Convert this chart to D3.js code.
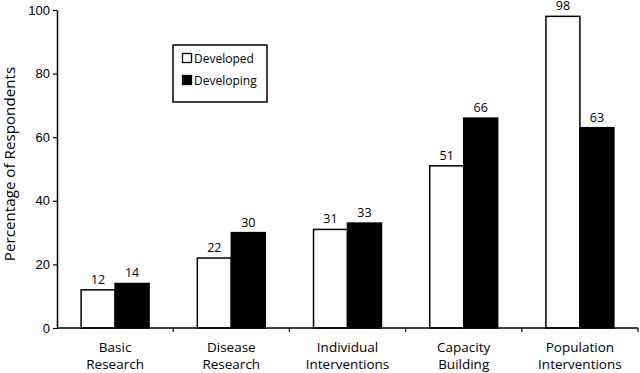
<!DOCTYPE html>
<html lang="en">
<head>
<meta charset="UTF-8">
<title>Research priorities</title>
<script src="https://d3js.org/d3.v7.min.js"></script>
<style>
  body { margin: 0; background: #fff; }
  svg { font-family: "Open Sans", "Noto Sans", Arial, sans-serif; }
</style>
</head>
<body>
<div id="chart"></div>
<script>
var categories = [["Basic", "Research"], ["Disease", "Research"], ["Individual", "Interventions"], ["Capacity", "Building"], ["Population", "Interventions"]];
var seriesNames = ["Developed", "Developing"];
var developed = [12, 22, 31, 51, 98];
var developing = [14, 30, 33, 66, 63];
var yTicks = [0, 20, 40, 60, 80, 100];

var width = 640, height = 373;
var margin = {left: 57, right: 2, top: 10, bottom: 45};

var svg = d3.select("#chart").append("svg")
    .attr("width", width)
    .attr("height", height);

var keys = categories.map(function(d) { return d.join(" "); });

var x0 = d3.scaleBand()
    .domain(keys)
    .range([margin.left, width - margin.right])
    .padding(0);

var x1 = d3.scaleBand()
    .domain(seriesNames)
    .range([0, x0.bandwidth()])
    .paddingInner(0)
    .paddingOuter(0.71);

var y = d3.scaleLinear()
    .domain([0, 100])
    .range([height - margin.bottom, margin.top]);

var fills = {Developed: "#fff", Developing: "#000"};
var values = {Developed: developed, Developing: developing};

// bars
keys.forEach(function(k, i) {
    seriesNames.forEach(function(s) {
        var v = values[s][i];
        svg.append("rect")
            .attr("x", x0(k) + x1(s))
            .attr("y", y(v))
            .attr("width", x1.bandwidth())
            .attr("height", y(0) - y(v))
            .attr("fill", fills[s])
            .attr("stroke", "#000")
            .attr("stroke-width", 1.5);
        svg.append("text")
            .attr("x", x0(k) + x1(s) + x1.bandwidth() / 2)
            .attr("y", y(v) - 6)
            .attr("text-anchor", "middle")
            .style("font-size", "12.5px")
            .text(v);
    });
});

// y axis
var yAxis = svg.append("g")
    .attr("transform", "translate(" + margin.left + ",0)")
    .call(d3.axisLeft(y).tickValues(yTicks).tickSize(4).tickPadding(3).tickSizeOuter(0));
yAxis.select(".domain").attr("stroke-width", 1.5);
yAxis.selectAll("line").attr("stroke-width", 1.2);
yAxis.selectAll("text").style("font-size", "13px").attr("fill", "#000");

// x axis with ticks at band boundaries
var xAxisG = svg.append("g")
    .attr("transform", "translate(0," + y(0) + ")");
xAxisG.append("line")
    .attr("x1", margin.left).attr("x2", width - margin.right)
    .attr("stroke", "#000").attr("stroke-width", 1.5);
keys.forEach(function(k, i) {
    xAxisG.append("line")
        .attr("x1", x0(k) + x0.bandwidth()).attr("x2", x0(k) + x0.bandwidth())
        .attr("y1", 0).attr("y2", 4)
        .attr("stroke", "#000").attr("stroke-width", 1.2);
    categories[i].forEach(function(line, j) {
        xAxisG.append("text")
            .attr("text-anchor", "middle")
            .style("font-size", "13.5px")
            .attr("x", x0(k) + x0.bandwidth() / 2)
            .attr("y", 24 + j * 16.5)
            .text(line);
    });
});

// y title
svg.append("text")
    .attr("transform", "translate(15,164) rotate(-90)")
    .attr("text-anchor", "middle")
    .style("font-size", "15.2px")
    .text("Percentage of Respondents");

// legend
var lg = svg.append("g").attr("transform", "translate(173,45)");
lg.append("rect")
    .attr("width", 94).attr("height", 57)
    .attr("fill", "#fff").attr("stroke", "#000").attr("stroke-width", 1.5);
seriesNames.forEach(function(s, i) {
    lg.append("rect")
        .attr("x", 9.5).attr("y", 8.5 + i * 22)
        .attr("width", 9).attr("height", 9)
        .attr("fill", fills[s]).attr("stroke", "#000").attr("stroke-width", 1.3);
    lg.append("text")
        .attr("x", 21).attr("y", 17.5 + i * 22)
        .style("font-size", "12px")
        .text(s);
});
</script>
</body>
</html>
